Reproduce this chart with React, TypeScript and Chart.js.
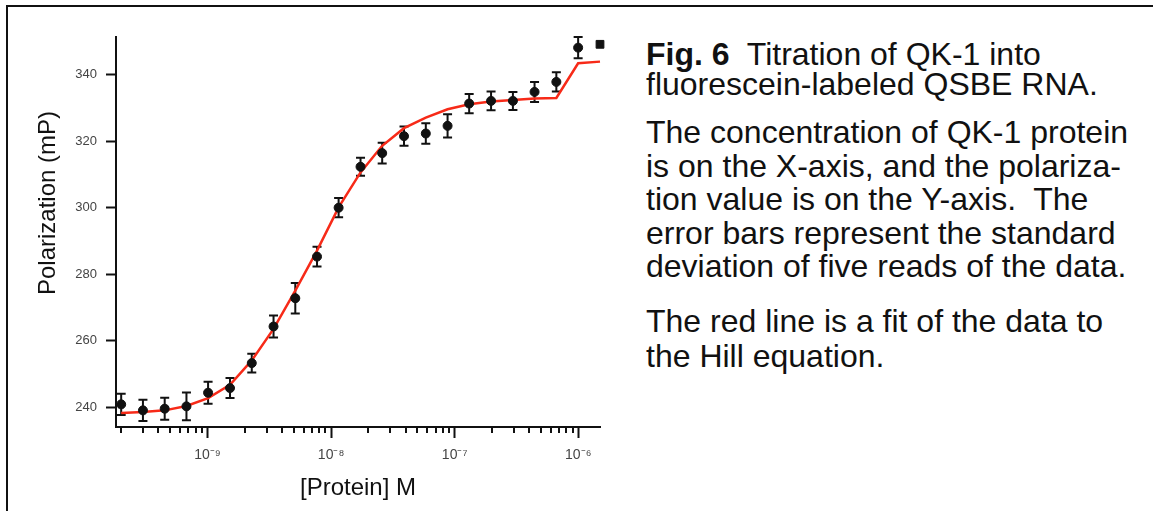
import React, { useEffect, useRef } from 'react';
import { Chart, registerables } from 'chart.js';

Chart.register(...registerables);

// ---- data ----
const concentrations = [
  2e-10, 3e-10, 4.5e-10, 6.75e-10, 1.01e-9, 1.52e-9, 2.28e-9, 3.42e-9, 5.13e-9, 7.69e-9,
  1.15e-8, 1.73e-8, 2.59e-8, 3.89e-8, 5.84e-8, 8.76e-8, 1.31e-7, 1.97e-7, 2.96e-7, 4.43e-7,
  6.65e-7, 9.98e-7,
];
const polarization = [
  240.9, 239.1, 239.6, 240.3, 244.4, 245.8, 253.3, 264.3, 272.8, 285.3,
  300.0, 312.3, 316.4, 321.5, 322.3, 324.6, 331.3, 332.1, 332.1, 334.8,
  337.8, 348.1,
];
const stdDev = [
  3.2, 3.2, 3.3, 4.2, 3.3, 3.0, 2.8, 3.3, 4.6, 3.0,
  2.9, 2.7, 3.1, 2.9, 3.1, 3.5, 2.9, 2.8, 2.7, 3.0,
  2.9, 3.2,
];
const lastConcentration = [1.5e-6];
const lastPolarization = [349.1];

const fitConcentrations = [
  2e-10, 3e-10, 4.5e-10, 6.75e-10, 1.01e-9, 1.52e-9, 2.28e-9, 3.42e-9, 5.13e-9, 7.69e-9,
  1.15e-8, 1.73e-8, 2.59e-8, 3.89e-8, 5.84e-8, 8.76e-8, 1.31e-7, 1.97e-7, 2.96e-7, 4.43e-7,
  6.65e-7, 9.98e-7, 1.5e-6,
];
const fitValues = [
  238.3, 238.6, 239.1, 240.4, 242.8, 246.8, 254.1, 263.6, 275.1, 287.1,
  300.1, 310.6, 318.6, 323.9, 327.1, 329.6, 331.1, 331.9, 332.4, 332.8,
  333.0, 343.4, 343.9,
];

const yTicks = [240, 260, 280, 300, 320, 340];
const xMajorTicks = [1e-9, 1e-8, 1e-7, 1e-6];
const xTickLabels = ['10\u207B\u2079', '10\u207B\u2078', '10\u207B\u2077', '10\u207B\u2076'];
const xMinorTicks = [
  2e-10, 3e-10, 4e-10, 5e-10, 6e-10, 7e-10, 8e-10, 9e-10,
  2e-9, 3e-9, 4e-9, 5e-9, 6e-9, 7e-9, 8e-9, 9e-9,
  2e-8, 3e-8, 4e-8, 5e-8, 6e-8, 7e-8, 8e-8, 9e-8,
  2e-7, 3e-7, 4e-7, 5e-7, 6e-7, 7e-7, 8e-7, 9e-7,
];

const xTitle = '[Protein] M';
const yTitle = 'Polarization (mP)';

const captionLines = [
  { bold: 'Fig. 6', text: '  Titration of QK-1 into' },
  { bold: '', text: 'fluorescein-labeled QSBE RNA.' },
  { bold: '', text: 'The concentration of QK-1 protein' },
  { bold: '', text: 'is on the X-axis, and the polariza-' },
  { bold: '', text: 'tion value is on the Y-axis.  The' },
  { bold: '', text: 'error bars represent the standard' },
  { bold: '', text: 'deviation of five reads of the data.' },
  { bold: '', text: 'The red line is a fit of the data to' },
  { bold: '', text: 'the Hill equation.' },
];
const captionBaselines = [65, 95, 143, 177, 210, 244, 277, 332, 367];

const FONT = "'Liberation Sans', Arial, Helvetica, sans-serif";

const errorBarPlugin = {
  id: 'errorBars',
  beforeDatasetsDraw(chart: any) {
    const { ctx, scales } = chart;
    const xs = scales.x;
    const ys = scales.y;
    ctx.save();
    ctx.strokeStyle = '#111';
    ctx.lineWidth = 2;
    for (let i = 0; i < concentrations.length; i++) {
      const px = xs.getPixelForValue(concentrations[i]);
      const pTop = ys.getPixelForValue(polarization[i] + stdDev[i]);
      const pBot = ys.getPixelForValue(polarization[i] - stdDev[i]);
      ctx.beginPath();
      ctx.moveTo(px, pTop);
      ctx.lineTo(px, pBot);
      ctx.moveTo(px - 4.5, pTop);
      ctx.lineTo(px + 4.5, pTop);
      ctx.moveTo(px - 4.5, pBot);
      ctx.lineTo(px + 4.5, pBot);
      ctx.stroke();
    }
    ctx.restore();
  },
};

const axisDecorPlugin = {
  id: 'axisDecor',
  afterDraw(chart: any) {
    const { ctx, scales, chartArea } = chart;
    const xs = scales.x;
    ctx.save();
    ctx.strokeStyle = '#111';
    ctx.lineWidth = 2;
    ctx.beginPath();
    for (const v of xMinorTicks) {
      const px = Math.round(xs.getPixelForValue(v));
      ctx.moveTo(px, chartArea.bottom);
      ctx.lineTo(px, chartArea.bottom + 6);
    }
    ctx.stroke();
    // y-axis title
    ctx.fillStyle = '#111';
    ctx.font = `24px ${FONT}`;
    ctx.textAlign = 'center';
    ctx.textBaseline = 'middle';
    ctx.translate(48, 203);
    ctx.rotate(-Math.PI / 2);
    ctx.fillText(yTitle, 0, 0);
    ctx.restore();
  },
};

function FitChart() {
  const ref = useRef<HTMLCanvasElement | null>(null);
  useEffect(() => {
    if (!ref.current) return;
    const chart = new Chart(ref.current, {
      type: 'scatter',
      data: {
        datasets: [
          {
            type: 'line',
            label: 'Hill fit',
            data: fitConcentrations.map((x, i) => ({ x, y: fitValues[i] })),
            borderColor: '#f72a18',
            borderWidth: 2.5,
            pointRadius: 0,
            tension: 0,
            fill: false,
            clip: false,
            order: 2,
          } as any,
          {
            label: 'Polarization',
            data: concentrations.map((x, i) => ({ x, y: polarization[i] })),
            backgroundColor: '#111',
            borderColor: '#111',
            pointRadius: 4.5,
            pointHoverRadius: 4.5,
            clip: false,
            order: 1,
          },
          {
            label: 'Last',
            data: lastConcentration.map((x, i) => ({ x, y: lastPolarization[i] })),
            backgroundColor: '#111',
            borderColor: '#111',
            pointStyle: 'rect',
            pointRadius: 5.5,
            clip: false,
            order: 1,
          },
        ],
      },
      options: {
        animation: false,
        responsive: false,
        maintainAspectRatio: false,
        events: [],
        layout: { padding: { left: 56, top: 37, right: 20, bottom: 8 } },
        plugins: { legend: { display: false }, tooltip: { enabled: false } },
        scales: {
          x: {
            type: 'logarithmic',
            min: 1.816e-10,
            max: 1.5e-6,
            afterBuildTicks: (scale: any) => {
              scale.ticks = xMajorTicks.map((v) => ({ value: v, major: true }));
            },
            afterFit: (scale: any) => {
              scale.height = 76;
            },
            grid: {
              display: true,
              drawOnChartArea: false,
              drawTicks: true,
              tickLength: 11,
              tickWidth: 2,
              tickColor: '#111',
            },
            border: { display: true, color: '#111', width: 2 },
            ticks: {
              autoSkip: false,
              maxRotation: 0,
              padding: 9,
              color: '#444',
              font: { family: FONT, size: 14 },
              callback: (_v: any, i: number) => xTickLabels[i],
            },
            title: {
              display: true,
              text: xTitle,
              color: '#111',
              font: { family: FONT, size: 24 },
              padding: { top: 0, bottom: 0 },
            },
          },
          y: {
            type: 'linear',
            min: 234.1,
            max: 351.3,
            afterBuildTicks: (scale: any) => {
              scale.ticks = yTicks.map((v) => ({ value: v }));
            },
            afterFit: (scale: any) => {
              scale.width = 60;
            },
            grid: {
              display: true,
              drawOnChartArea: false,
              drawTicks: true,
              tickLength: 10,
              tickWidth: 2,
              tickColor: '#111',
            },
            border: { display: true, color: '#111', width: 2 },
            ticks: {
              padding: 9,
              color: '#444',
              font: { family: FONT, size: 13 },
            },
          },
        },
      },
      plugins: [errorBarPlugin, axisDecorPlugin],
    });
    return () => chart.destroy();
  }, []);
  return (
    <canvas
      ref={ref}
      width={620}
      height={511}
      style={{ position: 'absolute', left: 0, top: 0, width: 620, height: 511 }}
    />
  );
}

export default function App() {
  return (
    <div
      style={{
        position: 'fixed',
        left: 0,
        top: 0,
        width: 1153,
        height: 511,
        background: '#fff',
        overflow: 'hidden',
        fontFamily: FONT,
      }}
    >
      <div
        style={{
          position: 'absolute',
          left: 6,
          top: 5,
          width: 1153,
          height: 505,
          borderTop: '2px solid #111',
          borderLeft: '2px solid #111',
          borderBottom: '1px solid #ddd',
        }}
      />
      <FitChart />
      {captionLines.map((line, i) => (
        <div
          key={i}
          style={{
            position: 'absolute',
            left: 646,
            top: captionBaselines[i] - 27,
            fontSize: 32,
            lineHeight: '32px',
            whiteSpace: 'pre',
            color: '#111',
          }}
        >
          {line.bold ? <b>{line.bold}</b> : null}
          {line.text}
        </div>
      ))}
    </div>
  );
}
